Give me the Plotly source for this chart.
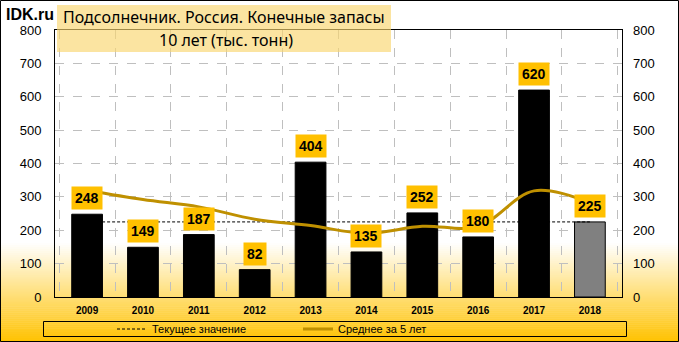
import plotly.graph_objects as go

years = ["2009", "2010", "2011", "2012", "2013", "2014", "2015", "2016", "2017", "2018"]
stocks = [248, 149, 187, 82, 404, 135, 252, 180, 620, 225]
avg5 = [320, 292, 270, 233, 214, 191, 212, 211, 318, 282]
current = [225] * len(years)
y_ticks = [0, 100, 200, 300, 400, 500, 600, 700, 800]

W, H = 679, 342
ML, MR, MT, MB = 55, 57, 30, 45
PW, PH = W - ML - MR, H - MT - MB

def px(x):
    return (x - ML) / PW

def py(y):
    return (H - MB - y) / PH

bar_colors = ["#000000"] * (len(years) - 1) + ["#808080"]

fig = go.Figure()
fig.add_trace(go.Scatter(x=years, y=current, mode="lines", name="Текущее значение",
                         line=dict(color="black", width=1, dash="3px,2px")))
fig.add_trace(go.Scatter(x=years, y=avg5, mode="lines", name="Среднее за 5 лет",
                         line=dict(color="#BF9000", width=3, shape="spline")))
fig.add_trace(go.Bar(x=years, y=stocks, marker=dict(color=bar_colors, line=dict(color="black", width=1)),
                     width=0.55, showlegend=False))
fig.add_trace(go.Scatter(x=years, y=stocks, yaxis="y2", mode="markers", marker=dict(opacity=0),
                         showlegend=False, hoverinfo="skip"))

for i, v in enumerate(stocks):
    fig.add_annotation(x=i, y=v, xref="x", yref="y", text="<b>%d</b>" % v, showarrow=False,
                       xanchor="center", yanchor="bottom", yshift=4,
                       bgcolor="#FFC000", borderpad=3,
                       font=dict(family="Liberation Sans", size=14, color="black"))

shapes = []
# background gradient
y0, y1 = 243, 342
n = 50
for i in range(n):
    t = (i + 0.5) / n
    g = int(round(255 - t * (255 - 194)))
    b = int(round(255 - t * 255))
    shapes.append(dict(type="rect", xref="paper", yref="paper", layer="below",
                       x0=px(0), x1=px(W), y0=py(y0 + (y1 - y0) * i / n), y1=py(y0 + (y1 - y0) * (i + 1) / n + 0.5),
                       fillcolor="rgb(255,%d,%d)" % (g, b), line=dict(width=0)))
# title box
shapes.append(dict(type="rect", xref="paper", yref="paper", layer="above",
                   x0=px(57), x1=px(391), y0=py(5), y1=py(52),
                   fillcolor="rgba(249,214,110,0.65)", line=dict(width=0)))
# legend box
shapes.append(dict(type="rect", xref="paper", yref="paper", layer="above",
                   x0=px(43.5), x1=px(626.5), y0=py(321.5), y1=py(336.5),
                   fillcolor="rgba(0,0,0,0)", line=dict(color="black", width=1)))
# outer border
shapes.append(dict(type="rect", xref="paper", yref="paper", layer="above",
                   x0=px(0.5), x1=px(W - 0.5), y0=py(0.5), y1=py(H - 0.5),
                   fillcolor="rgba(0,0,0,0)", line=dict(color="black", width=1)))

fig.add_annotation(xref="paper", yref="paper", x=px(224), y=py(17), text="Подсолнечник. Россия. Конечные запасы",
                   showarrow=False, xanchor="center", yanchor="middle",
                   font=dict(family="Noto Sans", size=16, color="black"))
fig.add_annotation(xref="paper", yref="paper", x=px(226), y=py(40), text="10 лет (тыс. тонн)",
                   showarrow=False, xanchor="center", yanchor="middle",
                   font=dict(family="Noto Sans", size=16, color="black"))
fig.add_annotation(xref="paper", yref="paper", x=px(30), y=py(14), text="<b>IDK.ru</b>",
                   showarrow=False, xanchor="center", yanchor="middle",
                   font=dict(family="Liberation Sans", size=16, color="black"))

fig.update_layout(
    width=W, height=H,
    margin=dict(l=ML, r=MR, t=MT, b=MB, autoexpand=False),
    paper_bgcolor="white", plot_bgcolor="rgba(0,0,0,0)",
    shapes=shapes,
    bargap=0.45,
    showlegend=True,
    legend=dict(orientation="h", x=px(112), y=py(329), xanchor="left", yanchor="middle",
                bgcolor="rgba(0,0,0,0)", entrywidth=141, entrywidthmode="pixels",
                font=dict(family="Liberation Sans", size=11, color="black"), traceorder="normal"),
    xaxis=dict(type="category", tickson="boundaries", showgrid=True, gridcolor="#BFBFBF", griddash="dash",
               gridwidth=1, showline=True, linecolor="black", linewidth=1, mirror=True, ticks="",
               tickfont=dict(family="Liberation Sans", size=10, color="black"), ticklabelstandoff=4,
               tickprefix="<b>", ticksuffix="</b>", tickangle=0),
    yaxis=dict(range=[0, 800], tickvals=y_ticks, showgrid=True, gridcolor="#BFBFBF", griddash="dash",
               gridwidth=1, showline=True, linecolor="black", linewidth=1, mirror=True, ticks="",
               zeroline=False, tickfont=dict(family="Liberation Sans", size=13, color="black"),
               ticklabelstandoff=10, tickprefix="<b>", ticksuffix="</b>"),
    yaxis2=dict(range=[0, 800], tickvals=y_ticks, overlaying="y", side="right", showgrid=False,
                zeroline=False, ticks="", showline=False,
                tickfont=dict(family="Liberation Sans", size=13, color="black"),
                ticklabelstandoff=10, tickprefix="<b>", ticksuffix="</b>"),
)

fig.write_html("out.html")
